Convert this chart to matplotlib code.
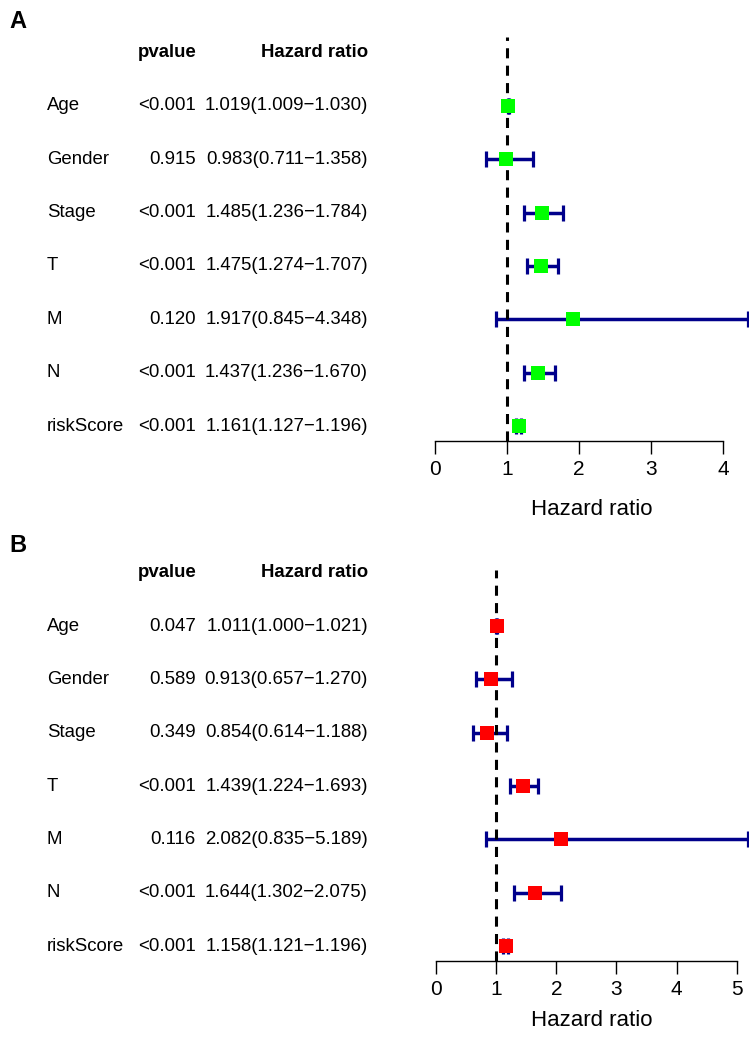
import matplotlib
matplotlib.use("Agg")
import matplotlib.pyplot as plt
from matplotlib import transforms

plt.rcParams['font.family'] = ['Liberation Sans', 'DejaVu Sans']

variables = ["Age", "Gender", "Stage", "T", "M", "N", "riskScore"]

# Panel A
pval_A = ["<0.001", "0.915", "<0.001", "<0.001", "0.120", "<0.001", "<0.001"]
hr_A = [1.019, 0.983, 1.485, 1.475, 1.917, 1.437, 1.161]
low_A = [1.009, 0.711, 1.236, 1.274, 0.845, 1.236, 1.127]
high_A = [1.030, 1.358, 1.784, 1.707, 4.348, 1.670, 1.196]
ticks_A = [0, 1, 2, 3, 4]

# Panel B
pval_B = ["0.047", "0.589", "0.349", "<0.001", "0.116", "<0.001", "<0.001"]
hr_B = [1.011, 0.913, 0.854, 1.439, 2.082, 1.644, 1.158]
low_B = [1.000, 0.657, 0.614, 1.224, 0.835, 1.302, 1.121]
high_B = [1.021, 1.270, 1.188, 1.693, 5.189, 2.075, 1.196]
ticks_B = [0, 1, 2, 3, 4, 5]

W, H = 750, 1037
fig = plt.figure(figsize=(W / 100, H / 100), dpi=100)


def px(x, y):
    return x / W, 1 - y / H


def panel(letter, ax_box, ylim_top, hr, low, high, pval, ticks, color, letter_y, xlabel_y):
    left, right, top, bottom = ax_box
    ax = fig.add_axes([left / W, 1 - bottom / H, (right - left) / W, (bottom - top) / H])
    n = len(hr)
    ys = list(range(n, 0, -1))
    ax.set_xlim(0, max(high))
    ax.set_ylim(0.72, ylim_top)
    err = [[h - l for h, l in zip(hr, low)], [hi - h for h, hi in zip(hr, high)]]
    ax.errorbar(hr, ys, xerr=err, fmt='none', ecolor='#00008B', elinewidth=2.5,
                capsize=5.5, capthick=2.3, zorder=2)
    ax.axvline(1, color='black', lw=2.2, linestyle=(0, (3.3, 2.4)), zorder=3)
    ax.plot(hr, ys, linestyle='none', marker='s', markersize=10.2, color=color,
            markeredgewidth=0, zorder=4)
    for s in ['top', 'right', 'left']:
        ax.spines[s].set_visible(False)
    ax.spines['bottom'].set_bounds(ticks[0], ticks[-1])
    ax.spines['bottom'].set_linewidth(1.0)
    ax.set_yticks([])
    ax.set_xticks(ticks)
    ax.tick_params(axis='x', length=9, width=1.0, labelsize=15, pad=5)
    ax.patch.set_alpha(0)

    tr = transforms.blended_transform_factory(fig.transFigure, ax.transData)
    fs = 13.4
    for y, name, p, h, l, hi in zip(ys, variables, pval, hr, low, high):
        fig.text(47 / W, y, name, transform=tr, ha='left', va='center', fontsize=fs)
        fig.text(196 / W, y, p, transform=tr, ha='right', va='center', fontsize=fs)
        fig.text(368 / W, y, f"{h:.3f}({l:.3f}\u2212{hi:.3f})", transform=tr,
                 ha='right', va='center', fontsize=fs)
    fig.text(197 / W, n + 1, "pvalue", transform=tr, ha='right', va='center',
             fontsize=fs, fontweight='bold')
    fig.text(368 / W, n + 1, "Hazard ratio", transform=tr, ha='right', va='center',
             fontsize=fs, fontweight='bold')
    fig.text(*px(9, letter_y), letter, ha='left', va='center', fontsize=17, fontweight='bold')
    fig.text(*px(592, xlabel_y), "Hazard ratio", ha='center', va='center', fontsize=16)
    return ax


panel("A", (435, 748, 37, 441), 8.29, hr_A, low_A, high_A, pval_A, ticks_A, '#00FF00', 21, 509)
panel("B", (436, 748, 570, 961), 8.05, hr_B, low_B, high_B, pval_B, ticks_B, '#FF0000', 545, 1021)

fig.savefig("out.png", dpi=100)
